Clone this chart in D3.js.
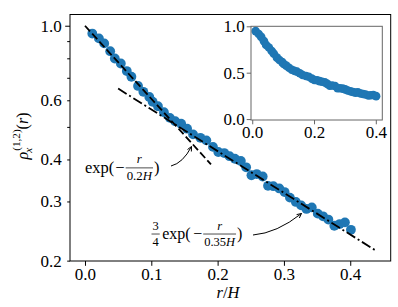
<!DOCTYPE html>
<html>
<head>
<meta charset="utf-8">
<script src="https://cdn.jsdelivr.net/npm/d3@7"></script>
<style>
  body { margin: 0; background: #fff; }
</style>
</head>
<body>
<svg width="398" height="307"></svg>
<script>
// values
var rH  = [0.011,0.021,0.029,0.038,0.045,0.054,0.063,0.070,0.080,0.088,0.097,0.102,0.110,0.119,0.128,0.136,
           0.145,0.154,0.163,0.174,0.183,0.193,0.201,0.210,0.218,0.226,0.235,0.243,0.251,0.259,0.268,0.276,
           0.284,0.293,0.301,0.309,0.318,0.326,0.334,0.342,0.351,0.359,0.367,0.376,0.384,0.392,0.401];
var rho = [0.948,0.917,0.886,0.840,0.799,0.772,0.733,0.705,0.662,0.636,0.614,0.594,0.576,0.553,0.532,0.520,
           0.511,0.494,0.475,0.464,0.456,0.436,0.421,0.418,0.409,0.402,0.396,0.379,0.359,0.362,0.356,0.334,
           0.333,0.328,0.320,0.308,0.299,0.292,0.285,0.288,0.276,0.271,0.265,0.254,0.257,0.260,0.247];

// the two exponential guides: amplitude, length (in H), r range
var fitAmp   = [1, 0.75];
var fitLen   = [0.2, 0.35];
var fitStart = [0, 0.05];
var fitEnd   = [0.19, 0.44];

var xTicks = [0, 0.1, 0.2, 0.3, 0.4];
var yTicks = [0.2, 0.3, 0.4, 0.6, 1.0];
var yMinor = [0.5, 0.7, 0.8, 0.9];
var insetXTicks = [0, 0.2, 0.4];
var insetYTicks = [0, 0.5, 1.0];

var serif = "Liberation Serif";
var svg = d3.select("svg").attr("font-family", serif);
var blue = "#1f77b4";
var fs = 17;

var x = d3.scaleLinear().domain([-0.0226, 0.461]).range([70, 390.7]);
var y = d3.scaleLog().domain([0.1995, 1.08]).range([261, 14.5]);

var pts = rH.map(function(r, i) { return {r: r, v: rho[i]}; });

// points
svg.append("g").selectAll("circle")
    .data(pts).enter().append("circle")
    .attr("cx", function(d) { return x(d.r); })
    .attr("cy", function(d) { return y(d.v); })
    .attr("r", 4.9)
    .attr("fill", blue);

// guide lines (straight on a log axis, so the end points are enough)
var dashes = ["7.5,3.2", "10,3,2,3"];
fitAmp.forEach(function(a, i) {
  var ends = [fitStart[i], fitEnd[i]];
  svg.append("path")
      .datum(ends)
      .attr("d", d3.line()
          .x(function(r) { return x(r); })
          .y(function(r) { return y(a * Math.exp(-r / fitLen[i])); }))
      .attr("fill", "none")
      .attr("stroke", "#000")
      .attr("stroke-width", 1.8)
      .attr("stroke-dasharray", dashes[i]);
});

// axes
var xAx = svg.append("g")
    .attr("transform", "translate(0,261)")
    .call(d3.axisBottom(x).tickValues(xTicks).tickFormat(d3.format(".1f")).tickSize(4.8).tickPadding(2.5));
var yAx = svg.append("g")
    .attr("transform", "translate(70,0)")
    .call(d3.axisLeft(y).tickValues(yTicks).tickFormat(d3.format(".1f")).tickSize(2.8).tickPadding(5.5));
yAx.selectAll(".tick").filter(function(d) { return d === 1.0; }).select("line").attr("x2", -4.8);
svg.append("g")
    .attr("transform", "translate(70,0)")
    .call(d3.axisLeft(y).tickValues(yMinor).tickFormat("").tickSize(2.8));
svg.selectAll(".domain").remove();
svg.selectAll(".tick line").attr("stroke", "#000").attr("stroke-width", 1);

svg.append("rect")
    .attr("x", 70).attr("y", 14.5)
    .attr("width", 320.7).attr("height", 246.5)
    .attr("fill", "none").attr("stroke", "#000").attr("stroke-width", 1);

// --- little math layout helper ---
function mathText(g, x0, base, parts, size) {
  var cx = x0;
  parts.forEach(function(p) {
    if (p.frac) {
      var s = size * 0.78;
      var n = g.append("g"), dn = g.append("g");
      var nw = mathText(n, 0, 0, p.frac[0], s), dw = mathText(dn, 0, 0, p.frac[1], s);
      var w = Math.max(nw, dw) + 2;
      n.attr("transform", "translate(" + (cx + (w - nw) / 2) + "," + (base - size * 0.55) + ")");
      dn.attr("transform", "translate(" + (cx + (w - dw) / 2) + "," + (base + size * 0.45) + ")");
      g.append("line")
          .attr("x1", cx).attr("x2", cx + w)
          .attr("y1", base - size * 0.28).attr("y2", base - size * 0.28)
          .attr("stroke", "#000").attr("stroke-width", 0.7);
      cx += w + 1;
    } else if (p.sup) {
      var s2 = size * 0.7;
      var up = g.append("g"), lo = g.append("g");
      var uw = mathText(up, 0, 0, p.sup, s2), lw = mathText(lo, 0, 0, p.sub, s2);
      up.attr("transform", "translate(" + (cx + 1) + "," + (base - size * 0.5) + ")");
      lo.attr("transform", "translate(" + (cx - 1) + "," + (base + size * 0.28) + ")");
      cx += Math.max(uw, lw) + 1;
    } else {
      var el = g.append("text")
          .attr("x", cx + (p.pad || 0)).attr("y", base)
          .attr("font-size", size)
          .attr("font-family", serif)
          .attr("font-style", p.it ? "italic" : null)
          .text(p.t);
      cx += el.node().getComputedTextLength() + 2 * (p.pad || 0);
    }
  });
  return cx - x0;
}

// annotations
var ann = svg.append("g");
mathText(ann, 85, 172.5, [
  {t: "exp("}, {t: "\u2212", pad: 1},
  {frac: [[{t: "r", it: true}], [{t: "0.2"}, {t: "H", it: true}]]},
  {t: ")"}
], 16.5);
mathText(ann, 151.5, 238.5, [
  {frac: [[{t: "3"}], [{t: "4"}]]}, {t: "exp(", pad: 1.5}, {t: "\u2212", pad: 1},
  {frac: [[{t: "r", it: true}], [{t: "0.35"}, {t: "H", it: true}]]},
  {t: ")"}
], 16);

function arrow(p0, c, p1) {
  svg.append("path")
      .attr("d", "M" + p0 + "Q" + c + " " + p1)
      .attr("fill", "none").attr("stroke", "#000").attr("stroke-width", 1);
  var ang = Math.atan2(p1[1] - c[1], p1[0] - c[0]);
  var hl = 5, hw = 0.45;
  var a1 = [p1[0] - hl * Math.cos(ang - hw), p1[1] - hl * Math.sin(ang - hw)];
  var a2 = [p1[0] - hl * Math.cos(ang + hw), p1[1] - hl * Math.sin(ang + hw)];
  svg.append("path")
      .attr("d", "M" + a1 + "L" + p1 + "L" + a2)
      .attr("fill", "none").attr("stroke", "#000").attr("stroke-width", 1);
}
arrow([171, 166], [183, 163], [191.5, 146.5]);
arrow([253, 235], [277, 233], [301.5, 213.5]);

// axis labels
var xl = svg.append("g");
var xw = mathText(xl, 0, 298, [{t: "r", it: true}, {t: "/"}, {t: "H", it: true}], 16.5);
xl.attr("transform", "translate(" + (228 - xw / 2) + ",0)");

var yl = svg.append("g");
var yw = mathText(yl, 0, 0, [
  {t: "\u03c1", it: true},
  {sup: [{t: "(1,2)"}], sub: [{t: "x", it: true}]},
  {t: "("}, {t: "r", it: true}, {t: ")"}
], 16);
yl.attr("transform", "translate(28,136) rotate(-90) translate(" + (-yw / 2) + ",0)");

// inset
var ix = d3.scaleLinear().domain([-0.004, 0.421]).range([251, 382.3]);
var iy = d3.scaleLinear().domain([-0.01, 1.0]).range([120, 26.3]);
svg.append("rect")
    .attr("x", 251).attr("y", 26.3).attr("width", 131.3).attr("height", 93.7)
    .attr("fill", "#fff");
svg.append("g").selectAll("circle")
    .data(pts).enter().append("circle")
    .attr("cx", function(d) { return ix(d.r); })
    .attr("cy", function(d) { return iy(d.v); })
    .attr("r", 4.3)
    .attr("fill", blue);
var ixa = svg.append("g")
    .attr("transform", "translate(0,120)")
    .call(d3.axisBottom(ix).tickValues(insetXTicks).tickFormat(d3.format(".1f")).tickSize(4.3).tickPadding(1.5));
var iya = svg.append("g")
    .attr("transform", "translate(251,0)")
    .call(d3.axisLeft(iy).tickValues(insetYTicks).tickFormat(d3.format(".1f")).tickSize(4.3).tickPadding(2));
[ixa, iya].forEach(function(a) {
  a.select(".domain").remove();
  a.selectAll(".tick line").attr("stroke", "#666");
});
svg.append("rect")
    .attr("x", 251).attr("y", 26.3).attr("width", 131.3).attr("height", 93.7)
    .attr("fill", "none").attr("stroke", "#666").attr("stroke-width", 1);

// d3 axes put sans-serif on their groups; use the serif face instead
svg.selectAll(".tick").each(function() { this.parentNode.setAttribute("font-family", serif); });
svg.selectAll(".tick text").attr("font-size", fs).attr("font-family", serif);
</script>
</body>
</html>
